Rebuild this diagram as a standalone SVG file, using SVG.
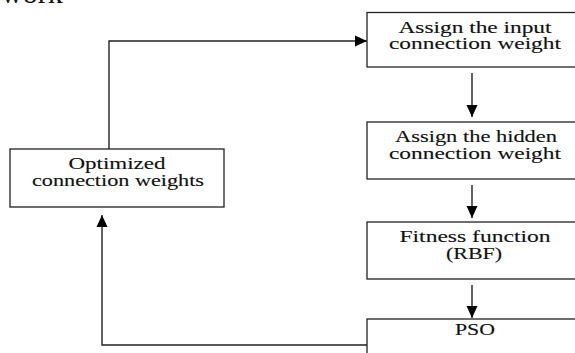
<svg xmlns="http://www.w3.org/2000/svg" width="575" height="353" viewBox="0 0 575 353">
<defs>
<marker id="ah" viewBox="0 0 12 12" refX="12" refY="6" markerWidth="12" markerHeight="12" markerUnits="userSpaceOnUse" orient="auto">
<path d="M0,0.5 L12,6 L0,11.5 z" fill="#000"/>
</marker>
</defs>
<style>
.box{fill:#fff;stroke:#222;stroke-width:1.3}
.t{font-family:"Liberation Serif","Times New Roman",serif;font-size:16px;fill:#111;stroke:#111;stroke-width:0.12;text-anchor:middle}
.c{fill:none;stroke:#222;stroke-width:1.4}
</style>
<text x="1" y="3" style="font-family:'Liberation Serif',serif;font-size:30px;fill:#111">work</text>
<g id="n1">
<rect class="box" x="367" y="12.5" width="220" height="54.5"/>
<text class="t" x="475" y="33" textLength="153" lengthAdjust="spacingAndGlyphs">Assign the input</text>
<text class="t" x="475" y="49" textLength="172" lengthAdjust="spacingAndGlyphs">connection weight</text>
</g>
<g id="n2">
<rect class="box" x="367" y="122" width="220" height="57"/>
<text class="t" x="476" y="142" textLength="162" lengthAdjust="spacingAndGlyphs">Assign the hidden</text>
<text class="t" x="475" y="159" textLength="172" lengthAdjust="spacingAndGlyphs">connection weight</text>
</g>
<g id="n3">
<rect class="box" x="367" y="222" width="220" height="57"/>
<text class="t" x="475" y="242" textLength="151" lengthAdjust="spacingAndGlyphs">Fitness function</text>
<text class="t" x="474" y="259" textLength="56" lengthAdjust="spacingAndGlyphs">(RBF)</text>
</g>
<g id="n4">
<rect class="box" x="367" y="319" width="220" height="50"/>
<text class="t" x="475" y="335" textLength="40" lengthAdjust="spacingAndGlyphs">PSO</text>
</g>
<g id="n5">
<rect class="box" x="10" y="149" width="214" height="58"/>
<text class="t" x="117" y="169" textLength="97" lengthAdjust="spacingAndGlyphs">Optimized</text>
<text class="t" x="118" y="186" textLength="172" lengthAdjust="spacingAndGlyphs">connection weights</text>
</g>
<g id="connectors">
<path class="c" d="M472,73 V117" marker-end="url(#ah)"/>
<path class="c" d="M472,185 V218" marker-end="url(#ah)"/>
<path class="c" d="M472,285 V318" marker-end="url(#ah)"/>
<path class="c" d="M367,345 H102 V215" marker-end="url(#ah)"/>
<path class="c" d="M109,149 V41 H367" marker-end="url(#ah)"/>
</g>
</svg>
